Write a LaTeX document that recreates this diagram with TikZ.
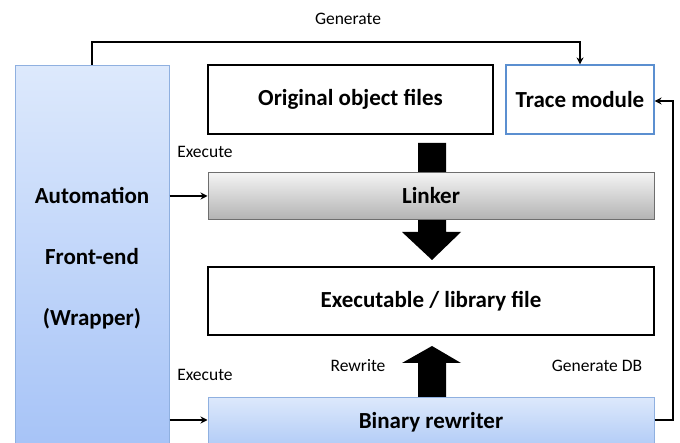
\documentclass[tikz,border=0pt]{standalone}
\usepackage{fontspec}
\setmainfont{Carlito}
\usetikzlibrary{arrows.meta}
\definecolor{frontTop}{HTML}{DDE9FC}
\definecolor{frontBot}{HTML}{A6C3F7}
\definecolor{frontLine}{HTML}{8FB0E0}
\definecolor{traceLine}{HTML}{5B8FD0}
\definecolor{rwTop}{HTML}{DCE8FB}
\definecolor{rwBot}{HTML}{B2CCF7}
\definecolor{lnkTop}{HTML}{F4F4F4}
\definecolor{lnkBot}{HTML}{B3B3B3}
\definecolor{lnkLine}{HTML}{6E6E6E}
\tikzset{
  box/.style={draw=black, line width=1.3pt, fill=white, inner sep=0pt,
    font=\bfseries\fontsize{23}{27}\selectfont},
  lbl/.style={font=\fontsize{17.5}{20}\selectfont, inner sep=0pt},
  conn/.style={line width=1.5pt, -{Stealth[length=7pt,width=7pt]}},
  block/.style={fill=black, draw=none},
}
\begin{document}
\begin{tikzpicture}[x=1pt,y=-1pt]
\useasboundingbox (0,0) rectangle (680,443);
\begin{scope}
\clip (0,0) rectangle (680,443);

% block arrow: object files -> linker -> executable (behind the linker)
\fill[block] (418,143) -- (446,143) -- (446,232) -- (461,232) -- (432,260)
  -- (402,232) -- (418,232) -- cycle;
% block arrow: rewriter -> executable
\fill[block] (418,400) -- (418,363) -- (402,363) -- (432,346) -- (461,363)
  -- (446,363) -- (446,400) -- cycle;

% front-end column
\node[box, draw=frontLine, line width=1pt, top color=frontTop, bottom color=frontBot,
  minimum width=154pt, minimum height=385pt, align=center,
  font=\bfseries\fontsize{23}{61}\selectfont]
  (front) at (92,258) {Automation\\Front-end\\(Wrapper)};

\node[box, minimum width=285pt, minimum height=69pt] (obj) at (350.5,99.5)
  {Original object files};
\node[box, draw=traceLine, line width=1.1pt, minimum width=148pt, minimum height=69pt]
  (trace) at (580,99.5) {Trace module};
\node[box, draw=lnkLine, line width=1pt, top color=lnkTop, bottom color=lnkBot,
  minimum width=446pt, minimum height=47pt] (linker) at (431,196) {Linker};
\node[box, minimum width=446pt, minimum height=68pt] (exe) at (431,301)
  {Executable / library file};
\node[box, draw=frontLine, line width=1pt, top color=rwTop, bottom color=rwBot,
  minimum width=446pt, minimum height=48pt] (rw) at (431,422)
  {\raisebox{1pt}{Binary rewriter}};

% thin connectors
\coordinate (gA) at (92,42);
\coordinate (gB) at (580,42);
\draw[conn] (front.north) -- (gA) -- (gB) -- (trace.north);
\node[lbl] (genlbl) at (348,19) {Generate};

\draw[conn] (front.east |- linker.west) -- (linker.west);
\node[lbl] (ex1) at (205,152) {Execute};
\draw[conn] (front.east |- 0,420) -- (linker.west |- 0,420);
\node[lbl] (ex2) at (205,375) {Execute};

\coordinate (dA) at (673,420);
\coordinate (dB) at (673,101);
\draw[conn] (rw.east |- dA) -- (dA) -- (dB) -- (trace.east |- dB);
\node[lbl] (gendb) at (597,366) {Generate DB};
\node[lbl] (rwlbl) at (358,366) {Rewrite};
\end{scope}
\end{tikzpicture}
\end{document}
